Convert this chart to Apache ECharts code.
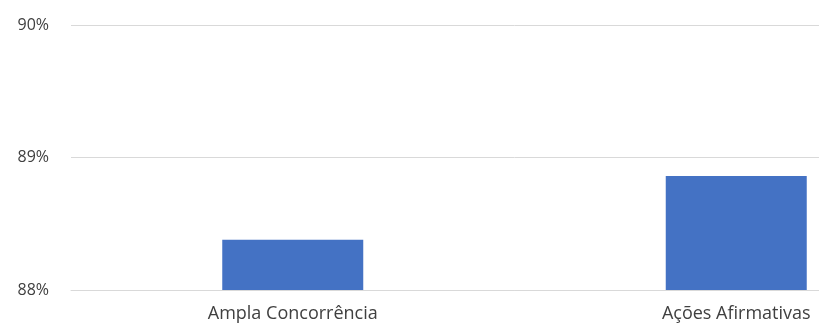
<!DOCTYPE html>
<html>
<head>
<meta charset="utf-8">
<script src="https://cdn.jsdelivr.net/npm/echarts@6/dist/echarts.min.js"></script>
<style>
  html, body { margin: 0; padding: 0; background: #ffffff; overflow: hidden; width: 819px; height: 323px; }
  /* the plot area continues past the right edge of the visible window */
  #chart { width: 960px; height: 323px; }
</style>
</head>
<body>
<div id="chart"></div>
<script>
// Share of approved candidates by admission type
const categories = ['Ampla Concorrência', 'Ações Afirmativas'];
const values = [88.38, 88.86];
const yMin = 88;
const yMax = 90;
const yStep = 1;

const chart = echarts.init(document.getElementById('chart'), null, { renderer: 'canvas' });
chart.setOption({
  animation: false,
  backgroundColor: '#ffffff',
  grid: { left: 71, right: 2, top: 25, bottom: 33, containLabel: false },
  xAxis: {
    type: 'category',
    data: categories,
    axisTick: { show: false },
    axisLine: { show: true, lineStyle: { color: '#d9d9d9', width: 1 } },
    axisLabel: { color: '#404040', fontFamily: 'Open Sans', fontSize: 18, margin: 15 }
  },
  yAxis: {
    type: 'value',
    min: yMin,
    max: yMax,
    interval: yStep,
    axisLine: { show: false },
    axisTick: { show: false },
    splitLine: { lineStyle: { color: '#d9d9d9', width: 1 } },
    axisLabel: {
      color: '#404040', fontFamily: 'Open Sans', fontSize: 16, margin: 22,
      formatter: v => v.toFixed(0) + '%'
    }
  },
  series: [{
    type: 'bar',
    data: values,
    barWidth: 141,
    itemStyle: { color: '#4472c4' }
  }]
});
</script>
</body>
</html>
